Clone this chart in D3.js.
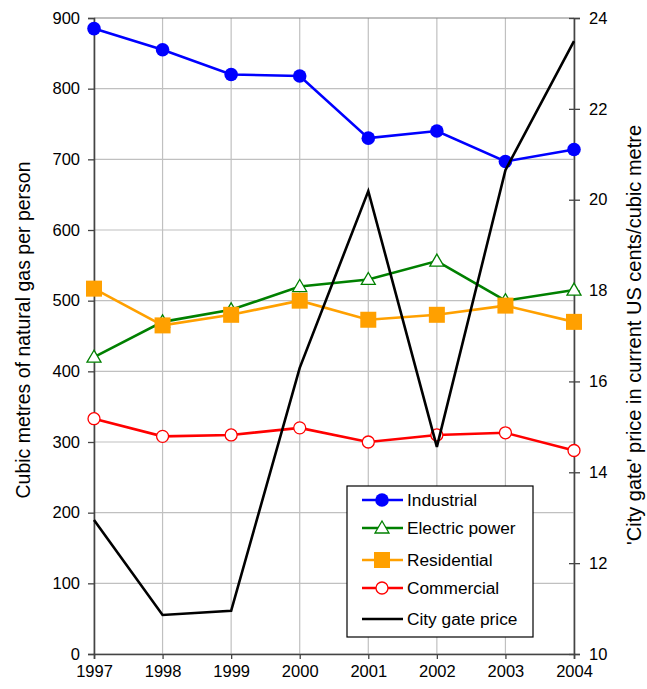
<!DOCTYPE html>
<html>
<head>
<meta charset="utf-8">
<script src="https://cdn.jsdelivr.net/npm/d3@7"></script>
<style>
  body { margin: 0; background: #fff; }
  text { font-family: "Liberation Sans", Arial, sans-serif; fill: #000; }
</style>
</head>
<body>
<svg id="chart" width="647" height="689"></svg>
<script>
var years = [1997, 1998, 1999, 2000, 2001, 2002, 2003, 2004];
var industrial = [885, 855, 820, 818, 730, 740, 697, 714];
var electric = [420, 470, 487, 520, 530, 556, 500, 515];
var residential = [517, 465, 480, 500, 473, 480, 493, 470];
var commercial = [333, 308, 310, 320, 300, 310, 313, 288];
var cityGate = [12.95, 10.86, 10.95, 16.3, 20.19, 14.56, 20.65, 23.49];

var leftTicks = [0, 100, 200, 300, 400, 500, 600, 700, 800, 900];
var rightTicks = [10, 12, 14, 16, 18, 20, 22, 24];

var series = [
  { name: 'Industrial', values: industrial, color: '#0000ff', marker: 'dot' },
  { name: 'Electric power', values: electric, color: '#008000', marker: 'triangle' },
  { name: 'Residential', values: residential, color: '#ffa000', marker: 'square' },
  { name: 'Commercial', values: commercial, color: '#ff0000', marker: 'ring' }
];

var svg = d3.select('#chart');
var plotL = 94, plotR = 574, plotT = 18, plotB = 654;

var x = d3.scaleLinear().domain([1997, 2004]).range([plotL, plotR]);
var y = d3.scaleLinear().domain([0, 900]).range([plotB, plotT]);
var y2 = d3.scaleLinear().domain([10, 24]).range([plotB, plotT]);

// grid
svg.append('g').selectAll('line').data(years).enter().append('line')
    .attr('x1', function(d) { return x(d); }).attr('x2', function(d) { return x(d); })
    .attr('y1', plotT).attr('y2', plotB)
    .attr('stroke', '#c0c0c0').attr('stroke-width', 1.2);
svg.append('g').selectAll('line').data(leftTicks).enter().append('line')
    .attr('x1', plotL).attr('x2', plotR)
    .attr('y1', function(d) { return y(d); }).attr('y2', function(d) { return y(d); })
    .attr('stroke', function(d) { return d === 900 ? '#808080' : '#c0c0c0'; })
    .attr('stroke-width', 1.2);

// axes
var axisColor = '#444';
var gl = svg.append('g').attr('transform', 'translate(' + plotL + ',0)')
    .call(d3.axisLeft(y).tickValues(leftTicks).tickSize(6).tickPadding(8));
var gr = svg.append('g').attr('transform', 'translate(' + plotR + ',0)')
    .call(d3.axisRight(y2).tickValues(rightTicks).tickSize(6).tickPadding(9));
gr.selectAll('.tick line').attr('x1', -5);
var gb = svg.append('g').attr('transform', 'translate(0,' + plotB + ')')
    .call(d3.axisBottom(x).tickValues(years).tickFormat(d3.format('d')).tickSize(5).tickPadding(6));
[gl, gr, gb].forEach(function(g) {
  g.select('.domain').attr('stroke', axisColor).attr('stroke-width', 1.6);
  g.selectAll('.tick line').attr('stroke', axisColor).attr('stroke-width', 1.3);
  g.selectAll('.tick text').style('font-size', '16.5px')
      .style('font-family', '"Liberation Sans", Arial, sans-serif').attr('fill', '#000');
});

// axis titles
svg.append('text')
    .attr('transform', 'translate(30,330) rotate(-90)')
    .attr('text-anchor', 'middle').style('font-size', '19.5px')
    .text('Cubic metres of natural gas per person');
svg.append('text')
    .attr('transform', 'translate(641,335) rotate(-90)')
    .attr('text-anchor', 'middle').style('font-size', '20px')
    .text("'City gate' price in current US cents/cubic metre");

// lines
var line = d3.line().x(function(d, i) { return x(years[i]); }).y(function(d) { return y(d); });
var line2 = d3.line().x(function(d, i) { return x(years[i]); }).y(function(d) { return y2(d); });

function drawMarker(g, type, color, cx, cy) {
  if (type === 'dot') {
    g.append('circle').attr('cx', cx).attr('cy', cy).attr('r', 6.8).attr('fill', color);
  } else if (type === 'ring') {
    g.append('circle').attr('cx', cx).attr('cy', cy).attr('r', 6)
        .attr('fill', '#fff').attr('stroke', color).attr('stroke-width', 1.3);
  } else if (type === 'square') {
    g.append('rect').attr('x', cx - 8).attr('y', cy - 8).attr('width', 16).attr('height', 16)
        .attr('fill', color);
  } else if (type === 'triangle') {
    g.append('path').attr('d', 'M' + cx + ',' + (cy - 7) + 'L' + (cx + 7) + ',' + (cy + 5) +
        'L' + (cx - 7) + ',' + (cy + 5) + 'Z')
        .attr('fill', '#fff').attr('stroke', color).attr('stroke-width', 1.3);
  }
}

series.forEach(function(s) {
  svg.append('path').attr('d', line(s.values))
      .attr('fill', 'none').attr('stroke', s.color).attr('stroke-width', 2.6);
  var g = svg.append('g');
  s.values.forEach(function(v, i) {
    drawMarker(g, s.marker, s.color, x(years[i]), y(v));
  });
});

// secondary-axis series drawn on top
svg.append('path').attr('d', line2(cityGate))
    .attr('fill', 'none').attr('stroke', '#000').attr('stroke-width', 2.6);

// legend
var lg = svg.append('g').attr('transform', 'translate(347,486)');
lg.append('rect').attr('width', 186).attr('height', 151)
    .attr('fill', '#fff').attr('stroke', '#000').attr('stroke-width', 1.2);
var legendItems = series.concat([{ name: 'City gate price', color: '#000', marker: null }]);
var rowY = [14, 42, 74, 102, 133];
legendItems.forEach(function(s, i) {
  var ry = rowY[i];
  lg.append('line').attr('x1', 15).attr('x2', 56).attr('y1', ry).attr('y2', ry)
      .attr('stroke', s.color).attr('stroke-width', 2.6);
  if (s.marker) drawMarker(lg, s.marker, s.color, 35, ry);
  lg.append('text').attr('x', 60).attr('y', ry + 6).style('font-size', '17.3px').text(s.name);
});
</script>
</body>
</html>
